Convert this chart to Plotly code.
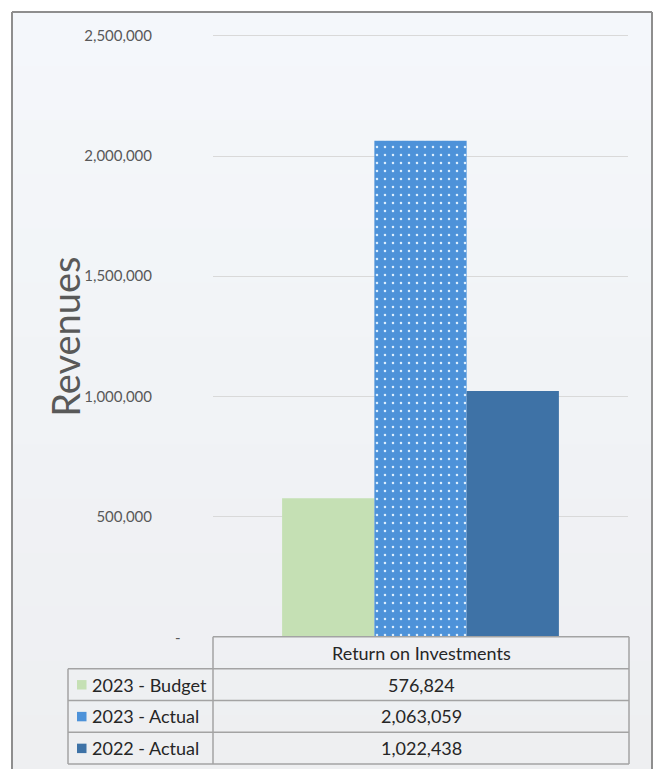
import plotly.graph_objects as go

# ---- data ----
category = "Return on Investments"
series_names = ["2023 - Budget", "2023 - Actual", "2022 - Actual"]
series_values = [576824, 2063059, 1022438]
series_colors = ["#c5e0b4", "#4d92d9", "#3e72a6"]
series_patterns = ["", ".", ""]
tick_values = [500000, 1000000, 1500000, 2000000, 2500000]
tick_labels = ["500,000", "1,000,000", "1,500,000", "2,000,000", "2,500,000"]
zero_label = "-"
axis_title = "Revenues"
y_max = 2520000

W, H = 654, 769
FONT = "Lato"


def px(x):
    return x / W


def py(y):
    return 1 - y / H


# pixel layout of the value axis: 0 sits at y=636, 2,500,000 at y=31
y_zero_px, y_top_px = 636, 31
px_per_unit = (y_zero_px - y_top_px) / 2500000
domain_top_px = y_zero_px - y_max * px_per_unit

fig = go.Figure()
for name, val, col, pat in zip(series_names, series_values, series_colors, series_patterns):
    marker = dict(color=col, line=dict(width=0))
    if pat:
        marker["pattern"] = dict(shape=pat, size=8, solidity=0.08,
                                 fgcolor="#dcefff", bgcolor=col, fillmode="replace")
    fig.add_trace(go.Bar(x=[category], y=[val], name=name, marker=marker,
                         showlegend=False, hoverinfo="skip"))

shapes = []
# soft background panel
n_bands = 14
top, bottom = 7, H
c0, c1 = (244, 247, 251), (238, 239, 241)
for i in range(n_bands):
    t = i / (n_bands - 1)
    c = tuple(round(a + (b - a) * t) for a, b in zip(c0, c1))
    y0 = top + (bottom - top) * i / n_bands
    y1 = top + (bottom - top) * (i + 1) / n_bands
    shapes.append(dict(type="rect", xref="paper", yref="paper", layer="below",
                       x0=px(12), x1=px(652), y0=py(y0), y1=py(y1 + 1),
                       fillcolor="rgb(%d,%d,%d)" % c, line=dict(width=0)))
# panel border
for x0, y0, x1, y1 in [(12, 7, 12, H + 2), (12, 7, 652, 7), (652, 7, 652, H + 2)]:
    shapes.append(dict(type="line", xref="paper", yref="paper", layer="above",
                       x0=px(x0), x1=px(x1), y0=py(y0), y1=py(y1),
                       line=dict(color="#8e8e8e", width=2)))

# data table grid
grid = "#a3a3a3"
row_y = [636, 668, 700, 732, 764]
left_x, mid_x, right_x = 68, 213, 629


def hline(x0, x1, y):
    shapes.append(dict(type="line", xref="paper", yref="paper", layer="above",
                       x0=px(x0), x1=px(x1), y0=py(y), y1=py(y),
                       line=dict(color=grid, width=1.5)))


def vline(x, y0, y1):
    shapes.append(dict(type="line", xref="paper", yref="paper", layer="above",
                       x0=px(x), x1=px(x), y0=py(y0), y1=py(y1),
                       line=dict(color=grid, width=1.5)))


hline(mid_x, right_x, row_y[0])
for y in row_y[1:]:
    hline(left_x, right_x, y)
vline(left_x, row_y[1], row_y[-1])
vline(mid_x, row_y[0], row_y[-1])
vline(right_x, row_y[0], row_y[-1])

annotations = []
text_col = "#262626"
table_size = 18
cx = (mid_x + right_x) / 2
annotations.append(dict(text=category, xref="paper", yref="paper", x=px(cx),
                        y=py((row_y[0] + row_y[1]) / 2), showarrow=False,
                        xanchor="center", yanchor="middle",
                        font=dict(family=FONT, size=table_size, color=text_col)))
for i, (name, val, col) in enumerate(zip(series_names, series_values, series_colors)):
    yc = (row_y[i + 1] + row_y[i + 2]) / 2
    shapes.append(dict(type="rect", xref="paper", yref="paper", layer="above",
                       x0=px(77), x1=px(86.5), y0=py(yc - 4.5), y1=py(yc + 5),
                       fillcolor=col, line=dict(width=0)))
    annotations.append(dict(text=name, xref="paper", yref="paper", x=px(90),
                            y=py(yc), showarrow=False, xanchor="left", yanchor="middle",
                            font=dict(family=FONT, size=table_size, color=text_col)))
    annotations.append(dict(text=f"{val:,}", xref="paper", yref="paper", x=px(cx),
                            y=py(yc), showarrow=False, xanchor="center", yanchor="middle",
                            font=dict(family=FONT, size=table_size, color=text_col)))

# zero label on the value axis
annotations.append(dict(text=zero_label, xref="paper", yref="y", x=px(178), y=0,
                        showarrow=False, xanchor="center", yanchor="middle",
                        font=dict(family=FONT, size=15, color="#595959")))
# axis title
annotations.append(dict(text=axis_title, xref="paper", yref="paper", x=px(65),
                        y=py(334), showarrow=False, textangle=-90,
                        xanchor="center", yanchor="middle",
                        font=dict(family=FONT, size=38, color="#595959")))

fig.update_layout(
    width=W, height=H,
    margin=dict(l=0, r=0, t=0, b=0),
    paper_bgcolor="white",
    plot_bgcolor="rgba(0,0,0,0)",
    barmode="group", bargap=0.333, bargroupgap=0,
    shapes=shapes, annotations=annotations,
    xaxis=dict(domain=[px(213), px(628)], showticklabels=False, showgrid=False,
               zeroline=False, showline=False, ticks=""),
    yaxis=dict(domain=[py(y_zero_px), py(domain_top_px)], range=[0, y_max],
               tickvals=tick_values, ticktext=tick_labels,
               showgrid=True, gridcolor="#d9d9d9", gridwidth=1,
               zeroline=False, showline=False, ticks="",
               ticklabelstandoff=60,
               tickfont=dict(family=FONT, size=15, color="#595959")),
)

fig.write_html("out.html")
